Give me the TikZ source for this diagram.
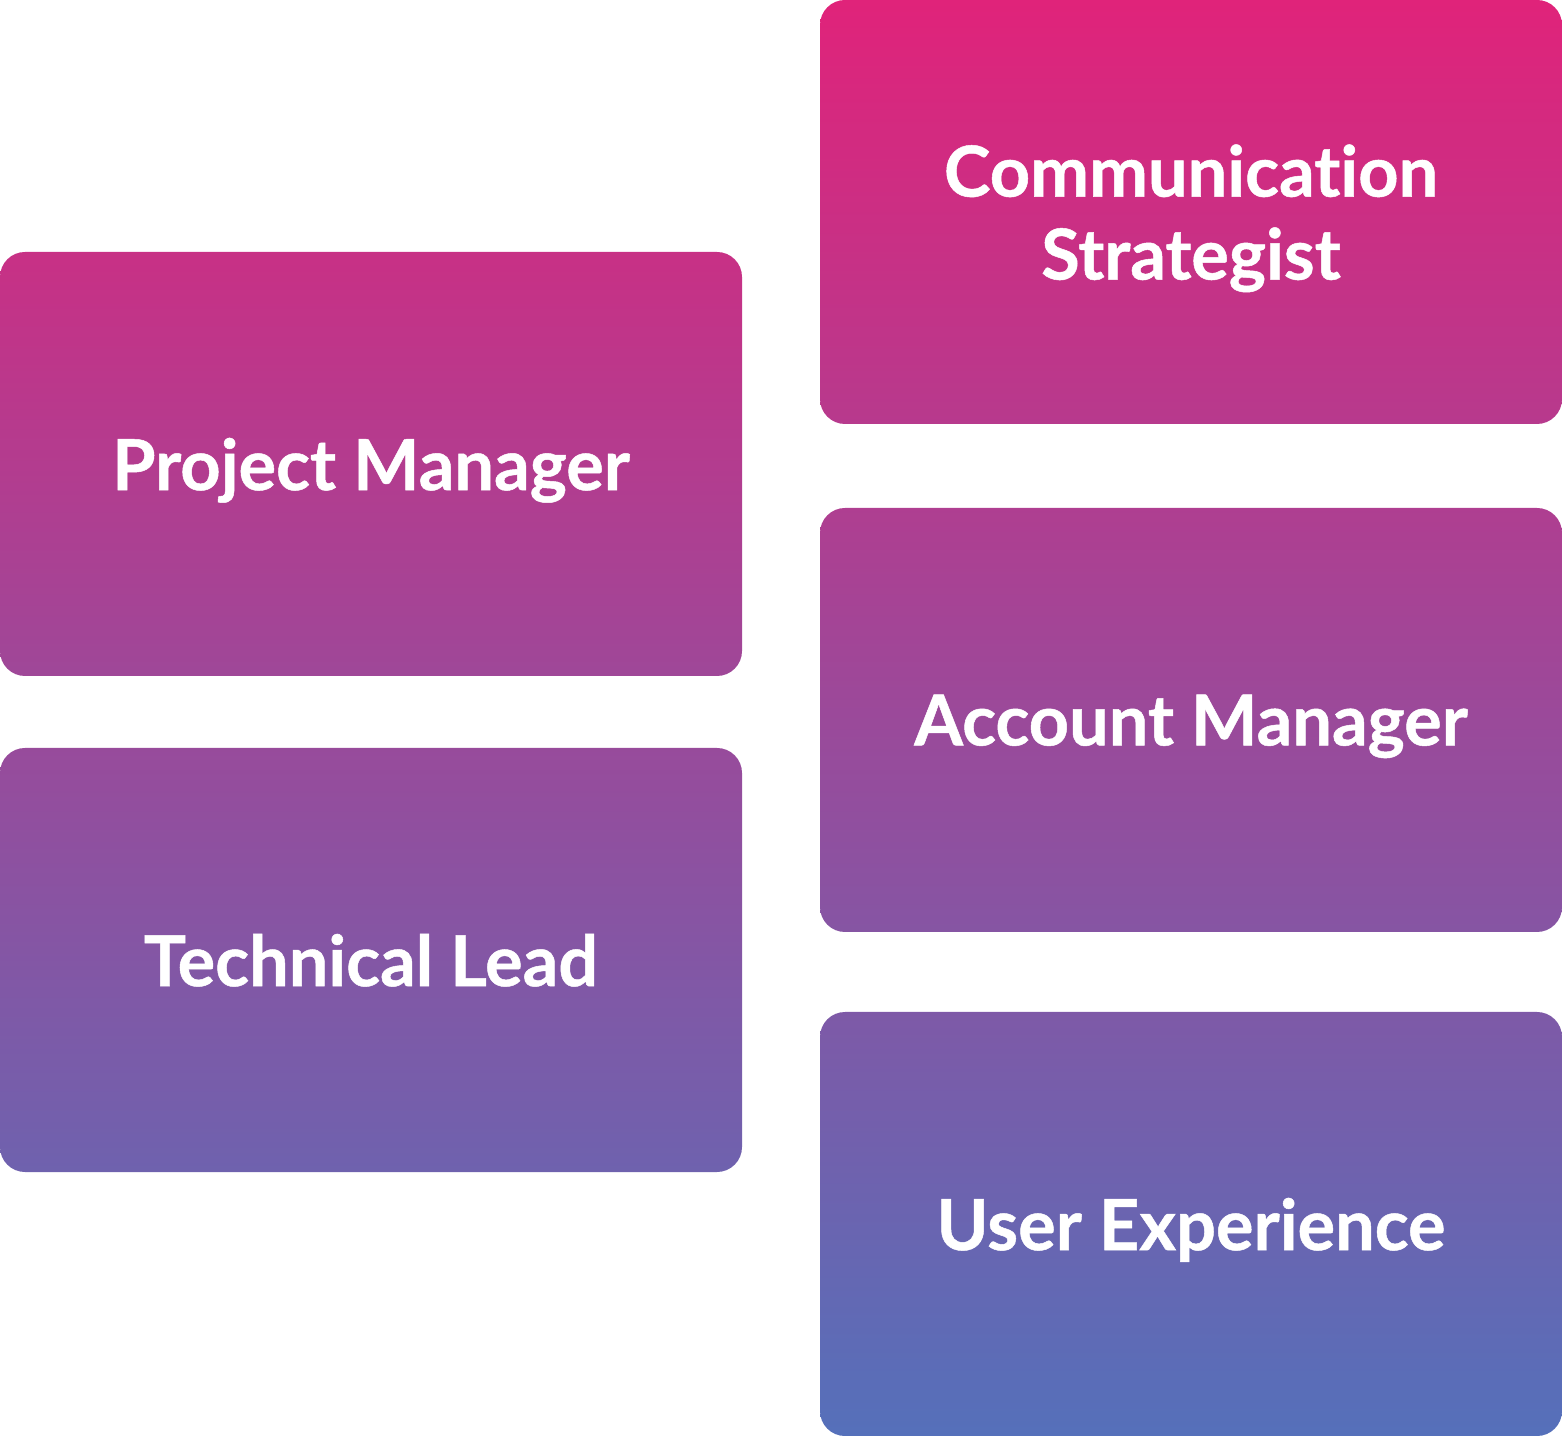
\documentclass[tikz,border=0pt]{standalone}
\usepackage{fontspec}
\setmainfont{Lato}[Ligatures=NoCommon, BoldFeatures={FakeBold=0.7}]
\definecolor{gradtop}{HTML}{E0237A}
\definecolor{gradbot}{HTML}{5570BA}
\tikzset{
  rolebox/.style 2 args={rounded corners=0.25cm, minimum width=7.42cm, minimum height=4.24cm,
    top color=gradtop!#1!gradbot, bottom color=gradtop!#2!gradbot, draw=none,
    text=white, align=center, font=\fontsize{20}{23.6}\selectfont\bfseries, inner sep=0pt,
    text depth=0pt}
}

\begin{document}
\begin{tikzpicture}

	\useasboundingbox (0,0) rectangle (15.62,-14.36);

	% left column
	\node[rolebox={82.5}{52.9}] (pm) at (3.71,-4.64) {Project Manager};
	\node[rolebox={47.9}{18.4}] (tl) at (3.71,-9.60) {Technical Lead};

	% right column
	\node[rolebox={100}{70.5}] (cs) at (11.91,-2.12) {Communication\\Strategist};
	\node[rolebox={64.6}{35.1}] (am) at (11.91,-7.20) {Account Manager};
	\node[rolebox={29.5}{0}] (ux) at (11.91,-12.24) {User Experience};

\end{tikzpicture}
\end{document}
